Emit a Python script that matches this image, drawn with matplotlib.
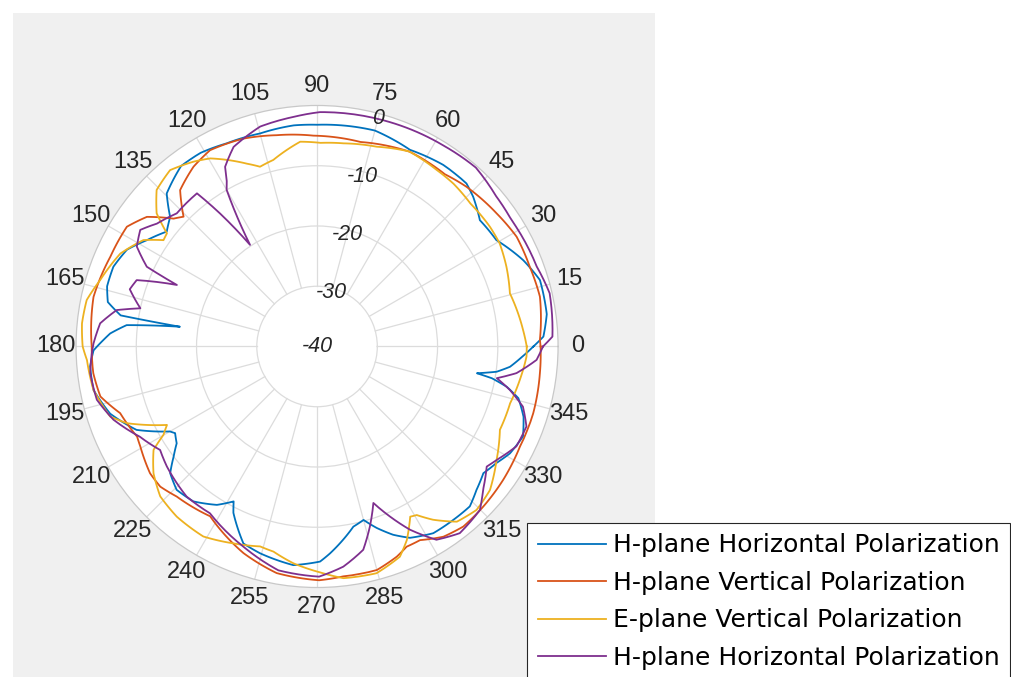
import numpy as np
import matplotlib.pyplot as plt
from matplotlib.patches import Rectangle
from matplotlib.lines import Line2D

plt.rcParams['font.family'] = ['Liberation Sans', 'DejaVu Sans']

# angle (deg) and gain (dB)
hh_ang = [0, 2.5, 8, 16.6, 22.7, 30.7, 37.8, 43.8, 47.5, 55.2, 64.7, 75, 90, 96, 105, 114,
          121, 127, 134.5, 138.6, 142.6, 148, 153, 158.6, 164, 168, 171, 171.8, 173.6, 176.4,
          178.3, 181, 185, 191, 198, 204.8, 210, 211.4, 214.6, 217.5, 220.8, 225.6, 231.4,
          237.7, 241.7, 243.3, 249.5, 254.6, 263.8, 270.8, 273.6, 281.4, 285, 288.2, 292,
          295.9, 301.9, 308.2, 313.7, 318, 322.7, 327, 331, 336.4, 341.2, 345.6, 348, 349.7,
          350.5, 352, 354, 357, 360]
hh_db = [-4.1, -2.4, -1.5, -1.4, -2.9, -5.4, -5.8, -4.1, -3.3, -3.3, -3.9, -2.9, -3.2, -3.1,
         -3.4, -3.1, -2.5, -2.5, -4.4, -7.5, -8.6, -6.7, -4.6, -3.7, -3.75, -4.5, -7.0, -17.0,
         -8.2, -5.6, -4.5, -2.9, -2.2, -2.2, -3.9, -7.0, -11.8, -12.4, -11.7, -10.0, -7.8,
         -6.7, -7.1, -8.9, -10.8, -9.1, -5.1, -4.4, -3.5, -4.3, -5.6, -9.5, -10.2, -8.3, -6.3,
         -4.7, -3.5, -3.4, -3.3, -4.4, -5.3, -4.5, -3.4, -2.7, -3.8, -5.5, -7.8, -10.5, -13.1,
         -9.9, -7.8, -6.0, -4.1]

hv_ang = [0, 1.7, 12.6, 20.5, 28.8, 36.5, 46.9, 53.4, 64.5, 78, 91, 100.8, 109.5, 118.6,
          124.5, 131.2, 135.8, 138.3, 142.7, 147.8, 156.5, 167.5, 180, 186.8, 193, 198.7,
          206.6, 209.5, 217.2, 221.8, 226.9, 237.8, 250.4, 259.9, 270.5, 276.5, 285, 290.8,
          294.1, 298, 303.6, 309.1, 316.1, 324.4, 333.7, 342.8, 353.1, 360]
hv_db = [-2.9, -3.0, -2.1, -2.3, -2.2, -2.9, -3.7, -4.4, -4.2, -5.3, -5.0, -4.3, -3.4, -2.9,
         -3.8, -5.5, -9.1, -8.1, -4.5, -2.7, -2.6, -2.0, -2.6, -2.6, -3.1, -5.5, -6.6, -6.3,
         -5.2, -5.1, -5.9, -6.7, -3.6, -1.8, -1.2, -1.6, -1.6, -2.7, -3.6, -3.6, -2.1, -1.5,
         -1.7, -2.0, -2.45, -2.45, -2.75, -2.9]

ev_ang = [0, 4.6, 15.4, 22.8, 29.4, 34.7, 43, 50, 56, 64.7, 73.4, 82.6, 89, 94.7, 103.2,
          107.6, 111, 115.8, 119.6, 123.8, 129.8, 135.7, 140.3, 143, 145.3, 148.5, 154.7,
          163, 168.6, 174.4, 180, 183.4, 191, 198.7, 202, 207.6, 209.9, 212.3, 217.8, 223.7,
          230.5, 239.1, 247, 254.1, 258, 263.8, 270.8, 276.5, 284.7, 291.5, 294.9, 298.7,
          300.6, 303.8, 308.6, 314.3, 320.3, 327.7, 335.5, 343.6, 350.6, 357.2, 360]
ev_db = [-5.2, -5.7, -6.8, -5.9, -5.2, -5.1, -5.2, -4.75, -4.6, -4.2, -5.4, -6.0, -6.2, -5.9,
         -8.2, -8.7, -7.5, -5.6, -4.1, -3.1, -1.9, -2.8, -5.4, -8.8, -9.0, -6.2, -3.9, -2.35,
         -1.0, -0.8, -1.1, -1.75, -2.2, -3.75, -6.0, -11.9, -10.6, -7.9, -5.65, -4.0, -3.4,
         -3.25, -4.5, -5.5, -5.2, -3.8, -2.5, -1.3, -1.1, -2.5, -4.6, -7.8, -7.5, -5.4, -2.8,
         -2.1, -2.7, -4.75, -6.65, -6.6, -5.9, -5.2, -5.2]

hh2_ang = [0, 2.4, 12.9, 20, 33.2, 40, 48.4, 57.9, 75, 89.3, 95.9, 104.5, 112.7, 117.1,
           118.5, 120, 123.4, 126.1, 128.1, 136.5, 142.5, 146.6, 151, 154.9, 156.3, 159.8,
           163, 167.8, 169.7, 173.9, 179.2, 181.7, 186.7, 193.6, 199.8, 207, 213.4, 218.6,
           229, 237.3, 249.8, 260.2, 270.5, 276.8, 282.8, 286.4, 289.8, 293.2, 296.9, 301.7,
           307.4, 314.9, 319.2, 324.7, 327.7, 333.4, 339.1, 343.7, 347.3, 350, 352.4, 356.5, 360]
hh2_db = [-2.5, -0.9, -0.4, -1.2, -1.5, -1.2, -0.3, -0.6, -0.9, -1.1, -1.7, -2.3, -4.1, -6.5,
          -8.6, -10.0, -19.8, -12.7, -7.7, -7.9, -6.5, -4.85, -5.8, -8.8, -14.6, -8.1, -7.5,
          -10.0, -6.2, -3.8, -2.9, -2.6, -2.1, -2.4, -4.1, -7.0, -8.8, -8.1, -7.0, -7.1, -4.6,
          -2.3, -1.8, -3.2, -5.4, -8.9, -12.4, -9.3, -5.9, -2.3, -1.0, -1.7, -3.6, -5.5,
          -4.75, -3.0, -2.8, -4.4, -7.2, -9.7, -6.6, -3.5, -2.5]

labels = ['H-plane Horizontal Polarization', 'H-plane Vertical Polarization',
          'E-plane Vertical Polarization', 'H-plane Horizontal Polarization']
colors = ['#0072BD', '#D95319', '#EDB120', '#7E2F8E']
series = [(hh_ang, hh_db), (hv_ang, hv_db), (ev_ang, ev_db), (hh2_ang, hh2_db)]

r_ticks = [-40, -30, -20, -10, 0]
theta_ticks = list(range(0, 360, 15))
grid_col = '#dcdcdc'
txt_col = '#262626'

fig = plt.figure(figsize=(10.11, 6.77), dpi=100)
fig.patches.append(Rectangle((0.0129, 0), 0.635, 0.981, transform=fig.transFigure,
                             facecolor='#f0f0f0', edgecolor='none', zorder=-10))

ax = fig.add_axes([0.0752, 0.1322, 0.4768, 0.712], projection='polar')
ax.set_facecolor('white')
ax.set_ylim(-40, 0)
ax.set_xticks([])
ax.set_yticks([-30, -20, -10])
ax.set_yticklabels([])
ax.yaxis.grid(True, color=grid_col, lw=0.9)
ax.spines['polar'].set_color('#c8c8c8')
ax.spines['polar'].set_linewidth(0.9)

# theta grid lines stop at the innermost ring, like MATLAB
for t in theta_ticks:
    ax.plot([np.deg2rad(t)] * 2, [-30, 0], color=grid_col, lw=0.9, zorder=0.5)
    ax.text(np.deg2rad(t), 3.3, str(t), ha='center', va='center', fontsize=17,
            color=txt_col, clip_on=False)

for v in r_ticks:
    ax.text(np.deg2rad(75), max(v - 0.8, -40), str(v), ha='center', va='center',
            fontsize=15.5, style='italic', color=txt_col, zorder=3)

for (a, d), c in zip(series, colors):
    ln, = ax.plot(np.deg2rad(a), d, color=c, lw=1.3, zorder=2)
    # let the polar transform bend each segment into an arc
    ln.get_path()._interpolation_steps = 12

handles = [Line2D([], [], color=c, lw=1.3) for c in colors]
leg = fig.legend(handles, labels, loc='upper left', bbox_to_anchor=(0.5213, 0.2275),
                 borderaxespad=0, fancybox=False, framealpha=1, edgecolor=txt_col,
                 prop={'family': 'DejaVu Sans', 'size': 18}, handlelength=2.75,
                 handletextpad=0.25, labelspacing=0.54, borderpad=0.42)
leg.get_frame().set_linewidth(0.8)

fig.savefig('out.png', dpi=100)
